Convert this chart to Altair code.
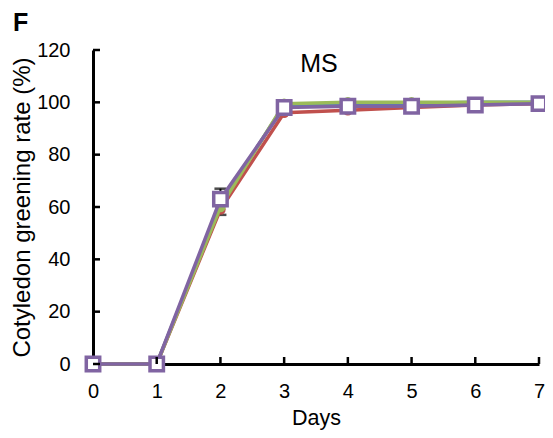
import altair as alt
import pandas as pd

days = [0, 1, 2, 3, 4, 5, 6, 7]
series_names = ["blue", "red", "green", "purple"]
blue = [0, 0, 61, 99, 99.5, 99.5, 100, 100]
red = [0, 0, 59, 96, 97, 98, 99, 99.5]
green = [0, 0, 60, 99.5, 100, 100, 100, 100]
purple = [0, 0, 63, 98, 98.5, 98.5, 99, 99.5]
colors = ["#4F81BD", "#C0504D", "#9BBB59", "#8064A2"]

err_days = [2]
err_low = [57]
err_high = [67]

y_ticks = [0, 20, 40, 60, 80, 100, 120]
x_ticks = [1, 2, 3, 4, 5, 6, 7]

W, H = 446, 314
FONT = "Liberation Sans"

vals = {"blue": blue, "red": red, "green": green, "purple": purple}
rows = []
for s in series_names:
    for d, v in zip(days, vals[s]):
        rows.append({"day": d, "value": v, "series": s})
df = pd.DataFrame(rows)

xs = alt.Scale(domain=[0, 7], nice=False)
ys = alt.Scale(domain=[0, 120], nice=False)

x_enc = alt.X("day:Q", scale=xs, axis=alt.Axis(values=list(range(8)), title="Days", format="d",
                                                labelPadding=17, titlePadding=6, titleFontSize=21.5,
                                                titleFontWeight="normal", labelFlush=False))
y_enc = alt.Y("value:Q", scale=ys, axis=alt.Axis(values=y_ticks, title="Cotyledon greening rate (%)",
                                                  labelPadding=23, titlePadding=2, titleFontSize=24,
                                                  titleFontWeight="normal", labelFlush=False))

err_df = pd.DataFrame({"day": err_days, "low": err_low, "high": err_high})
err_rule = alt.Chart(err_df).mark_rule(color="black", strokeWidth=2).encode(
    x=alt.X("day:Q", scale=xs), y=alt.Y("low:Q", scale=ys), y2="high:Q")
err_cap_lo = alt.Chart(err_df).mark_tick(color="black", thickness=2.5, size=12, orient="horizontal").encode(
    x=alt.X("day:Q", scale=xs), y=alt.Y("low:Q", scale=ys))
err_cap_hi = alt.Chart(err_df).mark_tick(color="black", thickness=2.5, size=12, orient="horizontal").encode(
    x=alt.X("day:Q", scale=xs), y=alt.Y("high:Q", scale=ys))

layers = [err_rule, err_cap_lo, err_cap_hi]
first = True
for s, c in zip(series_names, colors):
    sd = df[df.series == s]
    line = alt.Chart(sd).mark_line(color=c, strokeWidth=3.5).encode(
        x=x_enc if first else alt.X("day:Q", scale=xs),
        y=y_enc if first else alt.Y("value:Q", scale=ys))
    first = False
    layers.append(line)
    if s != "purple":
        layers.append(alt.Chart(sd).mark_point(filled=True, shape="circle", size=110, color=c, opacity=1).encode(
            x=alt.X("day:Q", scale=xs), y=alt.Y("value:Q", scale=ys)))
    else:
        layers.append(alt.Chart(sd).mark_point(shape="square", size=180, filled=False, fill="white",
                                               fillOpacity=1, stroke=c, strokeWidth=3.5, opacity=1).encode(
            x=alt.X("day:Q", scale=xs), y=alt.Y("value:Q", scale=ys)))

# inward tick marks
ytick_df = pd.DataFrame({"v": y_ticks})
ytick = alt.Chart(ytick_df).mark_rule(color="black", strokeWidth=2.5).encode(
    y=alt.Y("v:Q", scale=ys), x=alt.value(0), x2=alt.value(7))
xtick_df = pd.DataFrame({"d": x_ticks})
xtick = alt.Chart(xtick_df).mark_rule(color="black", strokeWidth=2.5).encode(
    x=alt.X("d:Q", scale=xs), y=alt.value(H), y2=alt.value(H - 7))

lbl_F = alt.Chart(pd.DataFrame({"t": ["F"]})).mark_text(
    font=FONT, fontSize=25, fontWeight="bold", align="left", baseline="alphabetic", color="black").encode(
    text="t:N", x=alt.value(-80), y=alt.value(-19))
lbl_MS = alt.Chart(pd.DataFrame({"t": ["MS"]})).mark_text(
    font=FONT, fontSize=25, align="center", baseline="alphabetic", color="black").encode(
    text="t:N", x=alt.value(226), y=alt.value(22))

chart = alt.layer(*layers, ytick, xtick, lbl_F, lbl_MS).properties(
    width=W, height=H,
    padding={"left": 85, "top": 42, "right": 6, "bottom": 66},
    autosize="none",
).configure_view(stroke=None).configure_axis(
    domainColor="black", domainWidth=3, tickSize=0, grid=False,
    labelFont=FONT, labelFontSize=20, labelColor="black",
    titleFont=FONT, titleColor="black",
)

chart.save("out.html", embed_options={"renderer": "svg", "actions": False})
